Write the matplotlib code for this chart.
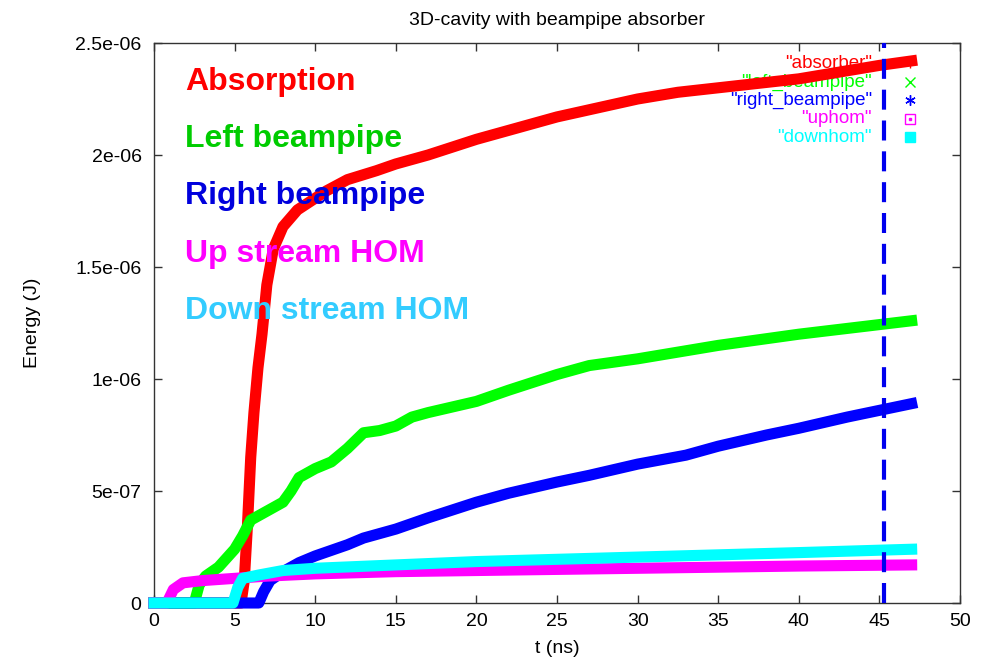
import matplotlib
matplotlib.use('Agg')
import matplotlib.pyplot as plt
import numpy as np

# energies, in units of 1e-6 J
t_absorber = [0, 5.4, 5.6, 5.8, 6.0, 6.2, 6.45, 6.7, 7.0, 7.4, 8.0, 8.9, 10.7, 12, 13.8, 15, 17,
              20, 22.5, 25, 27.5, 30, 32.5, 35, 37.5, 40, 42.5, 45, 47]
e_absorber = [0, 0, 0.1, 0.35, 0.65, 0.85, 1.05, 1.2, 1.42, 1.58, 1.68, 1.755, 1.84, 1.89, 1.93, 1.96, 2.0,
              2.07, 2.12, 2.17, 2.21, 2.25, 2.28, 2.3, 2.32, 2.34, 2.37, 2.4, 2.42]

t_left = [0, 2.5, 2.8, 3.2, 4, 5, 5.5, 6, 7, 8, 8.5, 9, 10, 11, 12, 13, 14, 15, 16, 17,
          20, 22, 25, 27, 30, 35, 40, 47]
e_left = [0, 0, 0.08, 0.12, 0.16, 0.24, 0.3, 0.37, 0.41, 0.45, 0.5, 0.56, 0.6, 0.63, 0.69, 0.76, 0.77, 0.79, 0.83, 0.85,
          0.9, 0.95, 1.02, 1.06, 1.09, 1.15, 1.2, 1.26]

t_right = [0, 6.5, 6.8, 7.2, 8, 9, 10, 12, 13, 15, 17, 20, 22, 25, 27, 30, 33, 35, 38, 40, 43, 47]
e_right = [0, 0, 0.05, 0.1, 0.14, 0.18, 0.21, 0.26, 0.29, 0.33, 0.38, 0.45, 0.49, 0.54, 0.57, 0.62, 0.66, 0.7,
           0.75, 0.78, 0.83, 0.89]

t_uphom = [0, 0.8, 1.2, 1.8, 3, 5, 7, 10, 15, 20, 25, 30, 35, 40, 47]
e_uphom = [0, 0, 0.06, 0.09, 0.1, 0.11, 0.12, 0.13, 0.14, 0.145, 0.15, 0.155, 0.16, 0.165, 0.17]

t_downhom = [0, 4.9, 5.2, 5.5, 6.5, 8, 10, 15, 20, 25, 30, 35, 40, 47]
e_downhom = [0, 0, 0.07, 0.11, 0.125, 0.145, 0.155, 0.17, 0.185, 0.195, 0.205, 0.215, 0.225, 0.24]

t_marker = 45.3

series = [
    (t_absorber, e_absorber, '#ff0000', '"absorber"', '+'),
    (t_left, e_left, '#00ff00', '"left_beampipe"', 'x'),
    (t_right, e_right, '#0000ff', '"right_beampipe"', (6, 2, 0)),
    (t_uphom, e_uphom, '#ff00ff', '"uphom"', 's'),
    (t_downhom, e_downhom, '#00ffff', '"downhom"', 's'),
]
notes = ['Absorption', 'Left beampipe', 'Right beampipe', 'Up stream HOM', 'Down stream HOM']
note_colors = ['#ff0000', '#00cc00', '#0000dd', '#ff00ff', '#33ccff']

yticks = [0, 0.5e-6, 1e-6, 1.5e-6, 2e-6, 2.5e-6]
ytick_labels = ['0', '5e-07', '1e-06', '1.5e-06', '2e-06', '2.5e-06']
xticks = list(range(0, 51, 5))

plt.rcParams['font.family'] = ['Liberation Sans', 'DejaVu Sans']

fig = plt.figure(figsize=(9.88, 6.61), dpi=100)
ax = fig.add_axes([154 / 988, 1 - 603 / 661, 806 / 988, 560 / 661])

for i, (t, e, col, lab, mk) in enumerate(series):
    ax.plot(t, np.array(e) * 1e-6, color=col, lw=8, solid_capstyle='projecting',
            solid_joinstyle='round', clip_on=False, zorder=3 + i)

ax.axvline(t_marker, color='#0000ee', lw=3, dashes=(4.8, 2.6), zorder=10)

# key in the upper right, gnuplot style
key_y = [0.964, 0.9304, 0.8982, 0.8643, 0.8321]
for (t, e, col, lab, mk), ky in zip(series, key_y):
    ax.text(0.8908, ky, lab, transform=ax.transAxes, color=col, fontsize=13.5,
            ha='right', va='center', zorder=2)
    face = col if lab == '"downhom"' else 'none'
    ax.plot([0.938], [ky], transform=ax.transAxes, marker=mk, ms=7.5, mew=1,
            mec=col, mfc=face, ls='none', zorder=2, clip_on=False)
    if lab == '"uphom"':
        ax.plot([0.938], [ky], transform=ax.transAxes, marker='s', ms=1.5,
                color=col, ls='none', zorder=2, clip_on=False)

note_y = [0.916, 0.814, 0.7125, 0.609, 0.507]
for txt, col, ny in zip(notes, note_colors, note_y):
    ax.text(0.0385, ny, txt, transform=ax.transAxes, color=col, fontsize=23,
            fontweight='bold', ha='left', va='baseline', zorder=20)

ax.set_xlim(0, 50)
ax.set_ylim(0, 2.5e-6)
ax.set_xticks(xticks)
ax.set_xticklabels([str(x) for x in xticks])
ax.set_yticks(yticks)
ax.set_yticklabels(ytick_labels)
ax.tick_params(direction='in', top=True, right=True, length=6, width=1,
               labelsize=14, color='#333333')
ax.tick_params(axis='x', pad=7)
ax.tick_params(axis='y', pad=9)
for s in ax.spines.values():
    s.set_color('#333333')
    s.set_linewidth(1)

ax.set_title('3D-cavity with beampipe absorber', fontsize=14, pad=13)
ax.set_xlabel('t (ns)', fontsize=14)
ax.set_ylabel('Energy (J)', fontsize=14)
ax.xaxis.set_label_coords(0.5, -0.066)
ax.yaxis.set_label_coords(-0.14, 0.5)

fig.savefig('out.png', dpi=100)
